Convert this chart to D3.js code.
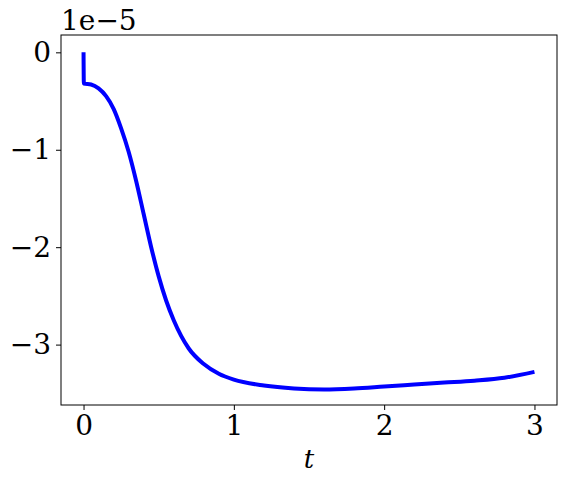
<!DOCTYPE html>
<html>
<head>
<meta charset="utf-8">
<script src="https://cdn.jsdelivr.net/npm/d3@7"></script>
<style>
  body { margin: 0; background: #fff; }
  text { font-family: "DejaVu Serif", serif; }
</style>
</head>
<body>
<div id="chart"></div>
<script>
// values (y in units of 1e-5)
const tValues = [0, 0.002, 0.05, 0.1, 0.15, 0.2, 0.25, 0.3, 0.35, 0.4, 0.45, 0.5, 0.55, 0.6, 0.7, 0.8, 0.9, 1.0, 1.2, 1.4, 1.6, 1.8, 2.0, 2.2, 2.4, 2.6, 2.8, 3.0];
const yValues = [0, -0.32, -0.33, -0.37, -0.45, -0.58, -0.78, -1.02, -1.32, -1.66, -2.0, -2.3, -2.55, -2.75, -3.04, -3.2, -3.3, -3.36, -3.42, -3.45, -3.46, -3.45, -3.43, -3.41, -3.39, -3.37, -3.34, -3.28];
const xTicks = [0, 1, 2, 3];
const yTicks = [0, -1, -2, -3];

const width = 566, height = 484;
const mLeft = 61, mRight = 557, mTop = 35, mBottom = 405;

const svg = d3.select("#chart").append("svg")
    .attr("width", width).attr("height", height);

const x = d3.scaleLinear().domain([-0.15, 3.15]).range([mLeft, mRight]);
const y = d3.scaleLinear().domain([-3.62, 0.178]).range([mBottom, mTop]);

// line
const data = tValues.map((t, i) => ({ t, v: yValues[i] }));
svg.append("path")
   .datum(data)
   .attr("fill", "none")
   .attr("stroke", "#0000ff")
   .attr("stroke-width", 4)
   .attr("d", d3.line().x(d => x(d.t)).y(d => y(d.v)).curve(d3.curveMonotoneX));

// axes
const xAxis = svg.append("g")
   .attr("transform", `translate(0,${mBottom})`)
   .call(d3.axisBottom(x).tickValues(xTicks).tickSize(5).tickPadding(5).tickFormat(d3.format("d")));
const yAxis = svg.append("g")
   .attr("transform", `translate(${mLeft},0)`)
   .call(d3.axisLeft(y).tickValues(yTicks).tickSize(5).tickPadding(5).tickFormat(d => d < 0 ? "\u2212" + Math.abs(d) : d));
[xAxis, yAxis].forEach(g => {
  g.selectAll("text").style("font-size", "28px").style("font-family", "DejaVu Serif").attr("fill", "#000");
  g.select(".domain").remove();
});

// frame
svg.append("rect")
   .attr("x", mLeft).attr("y", mTop)
   .attr("width", mRight - mLeft).attr("height", mBottom - mTop)
   .attr("fill", "none").attr("stroke", "#000").attr("stroke-width", 1);

// offset label and x label
svg.append("text").attr("x", mLeft).attr("y", 30)
   .style("font-size", "28px").text("1e\u22125");
svg.append("text").attr("x", (mLeft + mRight) / 2).attr("y", 468)
   .attr("text-anchor", "middle")
   .style("font-size", "26px").style("font-style", "italic").text("t");
</script>
</body>
</html>
